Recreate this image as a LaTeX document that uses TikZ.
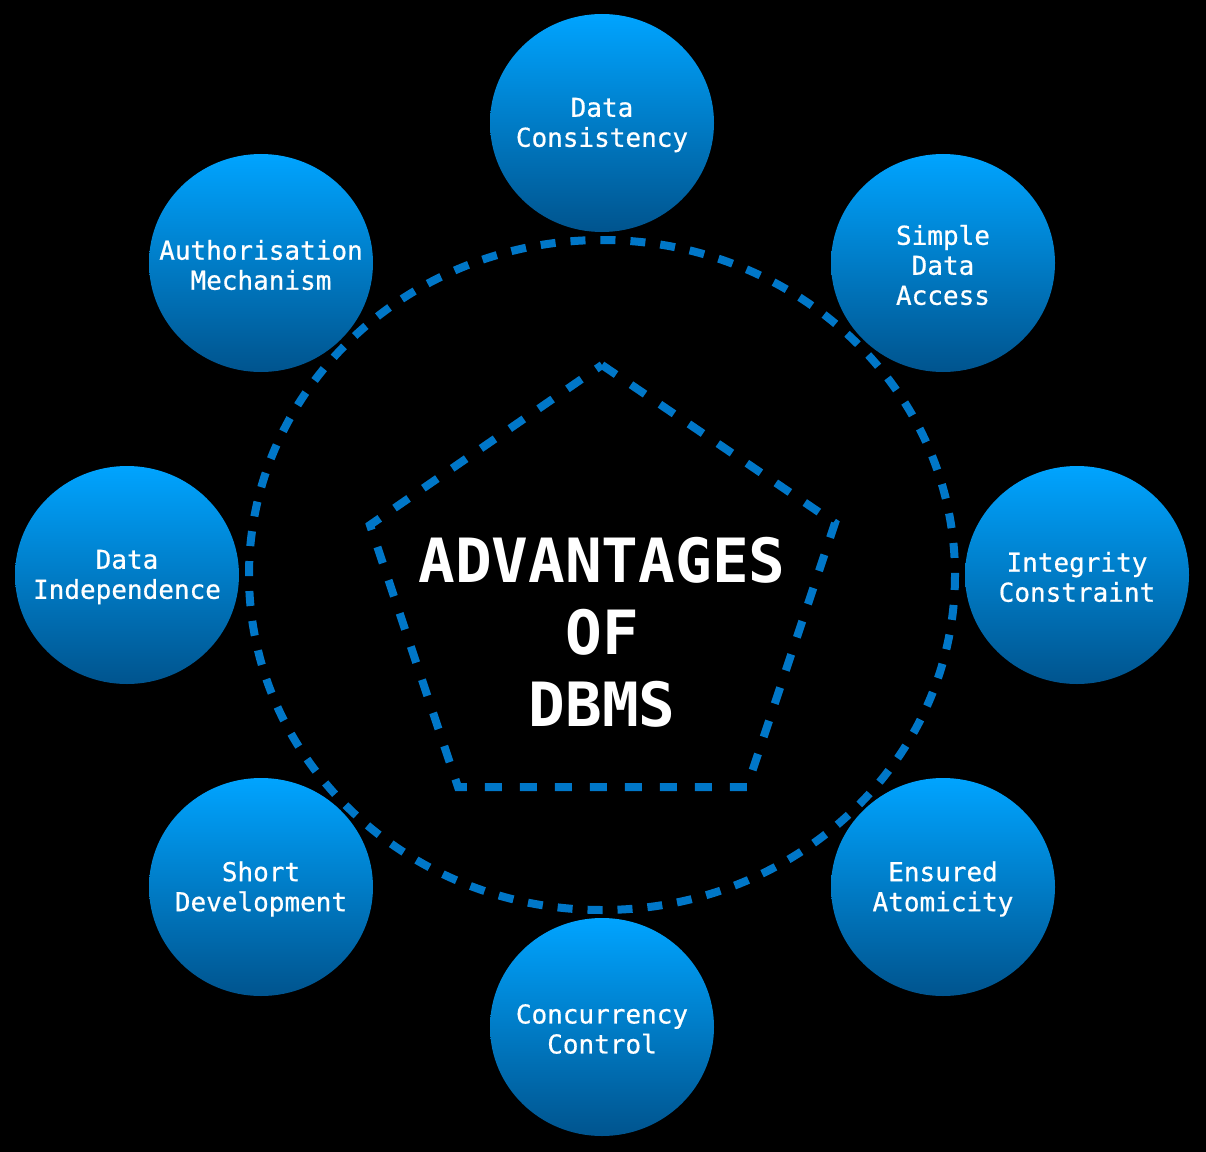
\documentclass[tikz,border=0pt]{standalone}
\usepackage{fontspec}
\newfontfamily\monofnt{DejaVu Sans Mono}
\newfontfamily\monofntsemi[FakeBold=0.6]{DejaVu Sans Mono}
\usetikzlibrary{shapes.geometric}
\definecolor{dashblue}{RGB}{0,119,200}
\definecolor{topblue}{RGB}{0,164,255}
\definecolor{botblue}{RGB}{0,84,142}
\tikzset{
  bubble/.style={ellipse, minimum width=168pt, minimum height=163.5pt, inner sep=0pt,
    top color=topblue, bottom color=botblue, draw=none},
  bubbletext/.style={text=white, align=center, inner sep=0pt, yshift=-1.5pt,
    font=\monofntsemi\fontsize{19.5pt}{22.5pt}\selectfont},
  ringline/.style={draw=dashblue, line width=6pt, dash pattern=on 11.25pt off 11.25pt},
  pentline/.style={draw=dashblue, line width=6pt, dash pattern=on 12.75pt off 13.5pt, line join=miter},
  titletext/.style={text=white, align=center, font=\monofnt\bfseries\fontsize{45.75pt}{54pt}\selectfont}
}
\newcommand{\bubblenode}[3]{%
  \node[bubble] (#1) at #2 {};
  \node[bubbletext] (#1t) at (#1.center) {#3};
}
\begin{document}
\begin{tikzpicture}[x=0.75pt, y=-0.75pt]
\path[fill=black, use as bounding box] (0,0) rectangle (1206,1152);
% dashed ring
\draw[ringline] (602,575) ellipse [x radius=353, y radius=335];
% pentagon
\coordinate (p1) at (602,365);
\coordinate (p2) at (835,523);
\coordinate (p3) at (747,787);
\coordinate (p4) at (458,787);
\coordinate (p5) at (370,525);
\draw[pentline] (p1) -- (p2) -- (p3) -- (p4) -- (p5) -- cycle;
\node[titletext] (title) at (602,632) {ADVANTAGES\\OF\\DBMS};
% bubbles
\bubblenode{n1}{(602,123)}{Data\\Consistency}
\bubblenode{n2}{(943,263)}{Simple\\Data\\Access}
\bubblenode{n3}{(1077,575)}{Integrity\\Constraint}
\bubblenode{n4}{(943,887)}{Ensured\\Atomicity}
\bubblenode{n5}{(602,1027)}{Concurrency\\Control}
\bubblenode{n6}{(261,887)}{Short\\Development}
\bubblenode{n7}{(127,575)}{Data\\Independence}
\bubblenode{n8}{(261,263)}{Authorisation\\Mechanism}
\end{tikzpicture}
\end{document}
